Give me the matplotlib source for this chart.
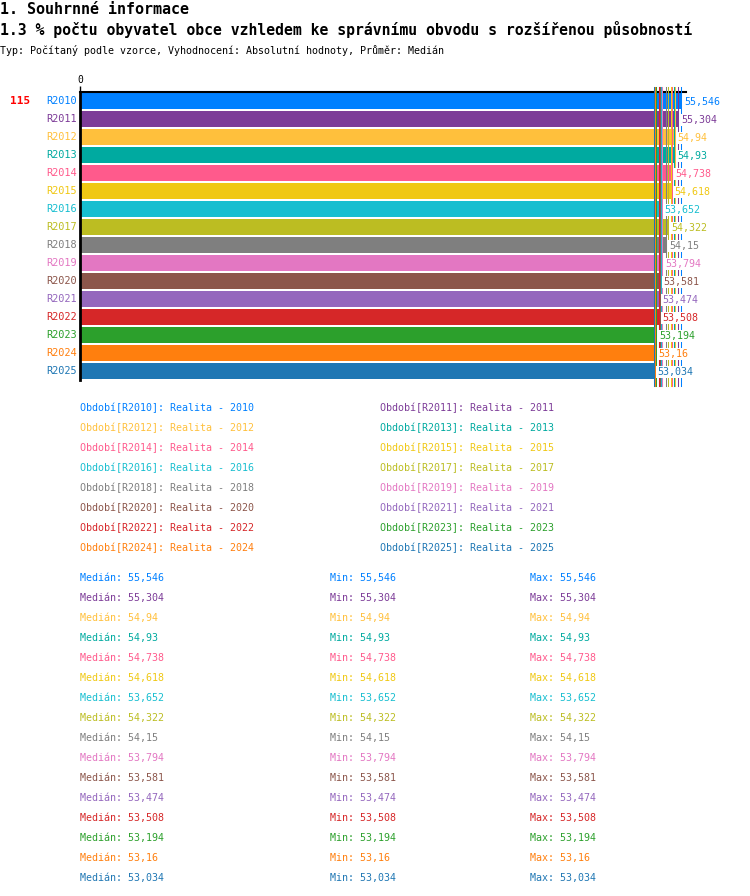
import matplotlib
matplotlib.use("Agg")
from matplotlib import pyplot as plt

plt.rcParams['font.family'] = ['DejaVu Sans Mono', 'DejaVu Sans']

periods = ["R2010", "R2011", "R2012", "R2013", "R2014", "R2015", "R2016", "R2017",
           "R2018", "R2019", "R2020", "R2021", "R2022", "R2023", "R2024", "R2025"]
years = ["2010", "2011", "2012", "2013", "2014", "2015", "2016", "2017",
         "2018", "2019", "2020", "2021", "2022", "2023", "2024", "2025"]
medians = [55.546, 55.304, 54.94, 54.93, 54.738, 54.618, 53.652, 54.322,
           54.15, 53.794, 53.581, 53.474, 53.508, 53.194, 53.16, 53.034]
mins = list(medians)
maxs = list(medians)
colors = ["#0080ff", "#7d3c98", "#ffc03c", "#00aaa0", "#ff5a8c", "#f0c814", "#18bed0", "#bcbd22",
          "#7f7f7f", "#e377c2", "#8c564b", "#9467bd", "#d62728", "#2ca02c", "#ff7f0e", "#1f77b4"]
rank = "115"

W, H = 750, 896
fig = plt.figure(figsize=(W / 100, H / 100), dpi=100)


def px(x, y):
    return x / W, 1 - y / H


def fmt(v):
    return ("%g" % v).replace(".", ",")


# nadpisy
fig.text(*px(0, 9), "1. Souhrnné informace", fontsize=10.8, fontweight="bold", va="center")
fig.text(*px(0, 30), "1.3 % počtu obyvatel obce vzhledem ke správnímu obvodu s rozšířenou působností",
         fontsize=10.6, fontweight="bold", va="center")
fig.text(*px(0, 50), "Typ: Počítaný podle vzorce, Vyhodnocení: Absolutní hodnoty, Průměr: Medián",
         fontsize=7.2, va="center")

# graf
n = len(periods)
top, left, right = 92, 80, 686
bottom = top + 18 * n
ax = fig.add_axes([left / W, 1 - bottom / H, (right - left) / W, (bottom - top) / H])
ypos = list(range(n))
ax.barh(ypos, medians, height=16 / 18, color=colors, zorder=1)
ax.set_xlim(0, 56)
ax.set_ylim(n - 0.5, -0.5)

for i, v in enumerate(medians):
    # svisla cara na hodnote pres cely graf
    ax.plot([v, v], [-0.78, n - 0.5 + 0.35], color=colors[i], lw=0.75, zorder=3, clip_on=False)
    ax.text(v + 0.3, i + 0.05, fmt(v), color=colors[i], fontsize=7.2, va="center", ha="left", zorder=4,
            bbox=dict(boxstyle="square,pad=0.12", facecolor="white", edgecolor="none"))
    ax.text(-0.3, i, periods[i], color=colors[i], fontsize=7.4, va="center", ha="right")

ax.text(-4.6, 0, rank, color="red", fontsize=8, fontweight="bold", va="center", ha="right")

for s in ["right", "bottom"]:
    ax.spines[s].set_visible(False)
ax.spines["left"].set_linewidth(2)
ax.spines["top"].set_linewidth(1.5)
ax.xaxis.tick_top()
ax.set_xticks([0])
ax.set_xticklabels(["0"], fontsize=7)
ax.tick_params(axis="x", length=4, width=1, pad=1)
ax.set_yticks([])

# legenda
for i in range(n):
    col = i % 2
    row = i // 2
    fig.text(*px(80 + 300 * col, 408 + 20 * row),
             "Období[%s]: Realita - %s" % (periods[i], years[i]),
             color=colors[i], fontsize=7.2, va="center")

# statistiky
for i in range(n):
    y = 578 + 20 * i
    fig.text(*px(80, y), "Medián: " + fmt(medians[i]), color=colors[i], fontsize=7.2, va="center")
    fig.text(*px(330, y), "Min: " + fmt(mins[i]), color=colors[i], fontsize=7.2, va="center")
    fig.text(*px(530, y), "Max: " + fmt(maxs[i]), color=colors[i], fontsize=7.2, va="center")

fig.savefig("out.png", dpi=100)
